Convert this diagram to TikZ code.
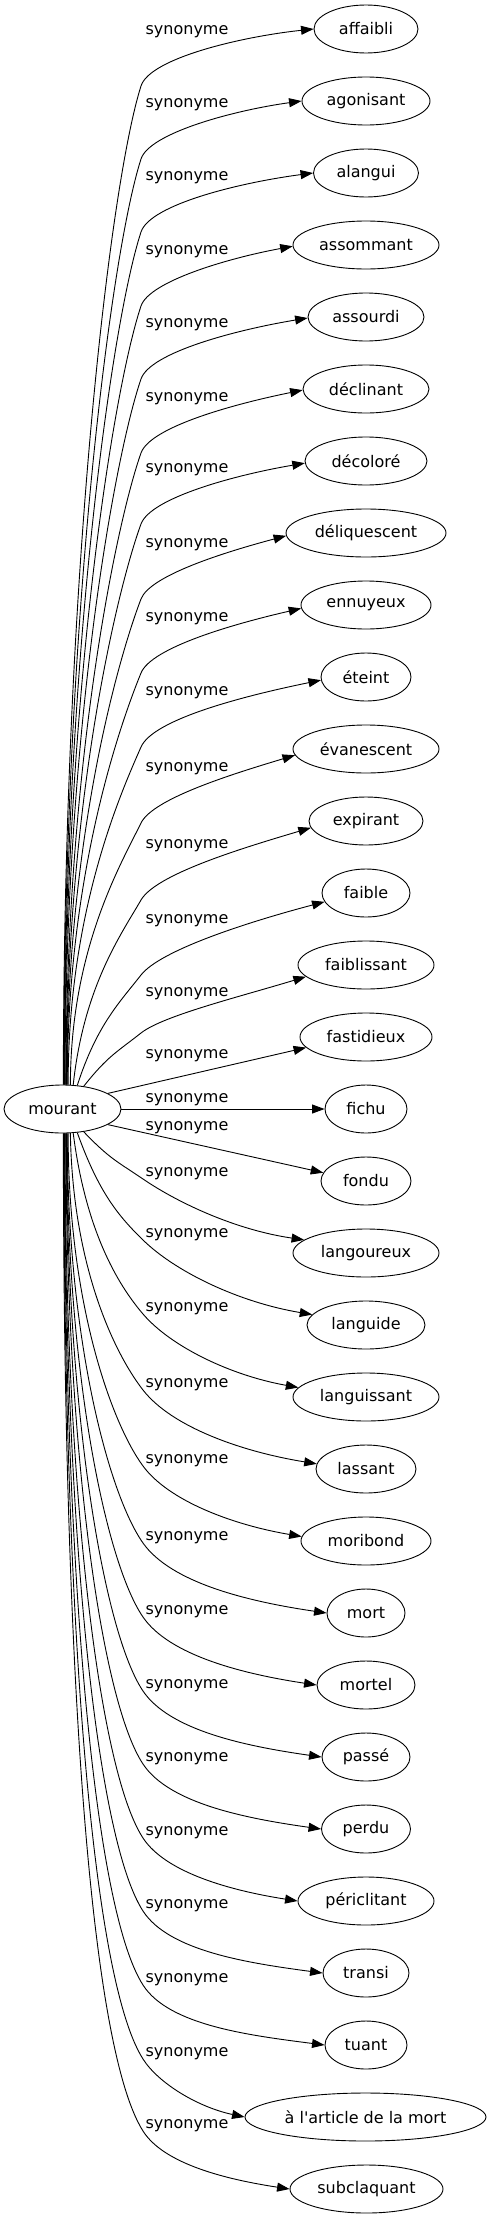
\documentclass[tikz,border=0pt]{standalone}
\usepackage{fontspec}
\newfontfamily\wordfont{DejaVu Sans}
\usetikzlibrary{shapes.geometric,arrows.meta,calc}
\newcommand\topedge[5]{%
  \draw[synarrow] let \p1=(mourant.#2), \p2=(#1.#3),
    \n1={141}, \n2={-(#4+#5)},
    \n3={atan2(\n2-\y1,\n1-\x1)},
    \n4={min(90,1.2*\n3)},
    \n5={veclen(\n1-\x1,\n2-\y1)},
    \n6={0.8*\n3+4},
    \n7={0.08*\n5+25},
    \n8={veclen(\x2-\n1,\y2-\n2)},
    \n9={atan2(\y2+(#4+8),\x2-229)}
  in (mourant.#2) .. controls ({\x1+0.5*\n5*cos(\n4)},{\y1+0.5*\n5*sin(\n4)}) and ({\n1-\n7*cos(\n6)},{\n2-\n7*sin(\n6)}) .. (\n1,\n2)
     .. controls ({\n1+0.16*\n8*cos(\n6)},{\n2+0.16*\n8*sin(\n6)}) and ({\x2-0.4*\n8*cos(\n9)},{\y2-0.4*\n8*sin(\n9)}) .. (#1.#3);}
\newcommand\botedge[4]{%
  \draw[synarrow] let \p1=(mourant.#2), \p2=(#1.#3),
    \n1={143}, \n2={-(#4+7)},
    \n3={atan2(\y1-\n2,\n1-\x1)},
    \n4={min(90,1.2*\n3)},
    \n5={veclen(\n1-\x1,\n2-\y1)},
    \n6={0.5*\n3+15},
    \n7={0.08*\n5+25},
    \n8={veclen(\x2-\n1,\y2-\n2)},
    \n9={0.4*atan2(\n2-\y2,\x2-\n1)}
  in (mourant.#2) .. controls ({\x1+0.5*\n5*cos(\n4)},{\y1-0.5*\n5*sin(\n4)}) and ({\n1-\n7*cos(\n6)},{\n2+\n7*sin(\n6)}) .. (\n1,\n2)
     .. controls ({\n1+0.25*\n8*cos(\n6)},{\n2-0.25*\n8*sin(\n6)}) and ({\x2-0.4*\n8*cos(\n9)},{\y2+0.4*\n8*sin(\n9)}) .. (#1.#3);}
\begin{document}
\begin{tikzpicture}[x=1pt,y=1pt,
  word/.style={draw, ellipse, line width=0.9pt, inner sep=0pt, minimum height=48pt, font=\wordfont\fontsize{16}{19}\selectfont},
  lbl/.style={inner sep=0pt, font=\wordfont\fontsize{16}{19}\selectfont},
  synarrow/.style={draw, line width=0.9pt, -{Triangle[length=12.5pt,width=9pt]}}]
\path[use as bounding box, fill=white] (0,0) rectangle (492,-2219);
\node[word, minimum width=117pt] (mourant) at (62.5,-1109) {mourant};
\node[word, minimum width=104pt] (affaibli) at (366,-29) {affaibli};
\node[word, minimum width=128pt] (agonisant) at (366,-101) {agonisant};
\node[word, minimum width=105pt] (alangui) at (366,-173) {alangui};
\node[word, minimum width=146pt] (assommant) at (366,-245) {assommant};
\node[word, minimum width=116pt] (assourdi) at (366,-317) {assourdi};
\node[word, minimum width=126pt] (declinant) at (366,-389) {déclinant};
\node[word, minimum width=122pt] (decolore) at (366,-461) {décoloré};
\node[word, minimum width=160pt] (deliquescent) at (366,-533) {déliquescent};
\node[word, minimum width=130pt] (ennuyeux) at (366,-605) {ennuyeux};
\node[word, minimum width=90pt] (eteint) at (366,-677) {éteint};
\node[word, minimum width=146pt] (evanescent) at (366,-749) {évanescent};
\node[word, minimum width=114pt] (expirant) at (366,-821) {expirant};
\node[word, minimum width=88pt] (faible) at (366,-893) {faible};
\node[word, minimum width=136pt] (faiblissant) at (366,-965) {faiblissant};
\node[word, minimum width=132pt] (fastidieux) at (366,-1037) {fastidieux};
\node[word, minimum width=82pt] (fichu) at (366,-1109) {fichu};
\node[word, minimum width=90pt] (fondu) at (366,-1181) {fondu};
\node[word, minimum width=146pt] (langoureux) at (366,-1253) {langoureux};
\node[word, minimum width=118pt] (languide) at (366,-1325) {languide};
\node[word, minimum width=146pt] (languissant) at (366,-1397) {languissant};
\node[word, minimum width=100pt] (lassant) at (366,-1469) {lassant};
\node[word, minimum width=130pt] (moribond) at (366,-1541) {moribond};
\node[word, minimum width=78pt] (mort) at (366,-1613) {mort};
\node[word, minimum width=98pt] (mortel) at (366,-1685) {mortel};
\node[word, minimum width=88pt] (passe) at (366,-1757) {passé};
\node[word, minimum width=89pt] (perdu) at (366,-1829) {perdu};
\node[word, minimum width=136pt] (periclitant) at (366,-1901) {périclitant};
\node[word, minimum width=86pt] (transi) at (366,-1973) {transi};
\node[word, minimum width=82pt] (tuant) at (366,-2045) {tuant};
\node[word, minimum width=241pt] (alarticle) at (365.5,-2117) {à l'article de la mort};
\node[word, minimum width=153pt] (subclaquant) at (366.5,-2189) {subclaquant};
\foreach \ly [count=\i from 0] in {30,103,176,250,323,397,468,543,617,691,767,844,919,992,1054,1098,1126,1172,1233,1307,1383,1459,1536,1610,1684,1757,1831,1904,1978,2052,2124}
  \node[lbl] (s\i) at (187,{-(\ly+2)}) {synonyme};
\topedge{affaibli}{88.8}{180}{30}{56}
\topedge{agonisant}{87.6}{180}{103}{56}
\topedge{alangui}{86.4}{180}{176}{56}
\topedge{assommant}{85.2}{181}{250}{56}
\topedge{assourdi}{84}{181}{323}{56}
\topedge{declinant}{82.9}{181}{397}{56}
\topedge{decolore}{81.7}{182}{468}{56}
\topedge{deliquescent}{80.5}{182}{543}{56}
\topedge{ennuyeux}{79.4}{183}{617}{56}
\topedge{eteint}{77.1}{184}{691}{56}
\topedge{evanescent}{72.6}{185}{767}{56}
\topedge{expirant}{66.8}{187}{844}{56}
\topedge{faible}{58}{192}{919}{56}
\topedge{faiblissant}{47.6}{191.5}{992}{41}
\draw[synarrow] (mourant.19.3) -- (fastidieux.190.6);
\draw[synarrow] (mourant.east) -- (fichu.west);
\draw[synarrow] (mourant.-19.3) -- (fondu.169.3);
\botedge{langoureux}{-47.6}{168}{1172}
\botedge{languide}{-58}{169.4}{1233}
\botedge{languissant}{-66.8}{172.4}{1307}
\botedge{lassant}{-72.6}{174.2}{1383}
\botedge{moribond}{-77.1}{176.5}{1459}
\botedge{mort}{-79.4}{180}{1536}
\botedge{mortel}{-80.5}{180}{1610}
\botedge{passe}{-81.7}{180}{1684}
\botedge{perdu}{-82.9}{180}{1757}
\botedge{periclitant}{-84}{180}{1831}
\botedge{transi}{-85.2}{180}{1904}
\botedge{tuant}{-86.4}{180}{1978}
\botedge{alarticle}{-87.6}{180}{2052}
\botedge{subclaquant}{-88.8}{180}{2124}
\end{tikzpicture}
\end{document}
